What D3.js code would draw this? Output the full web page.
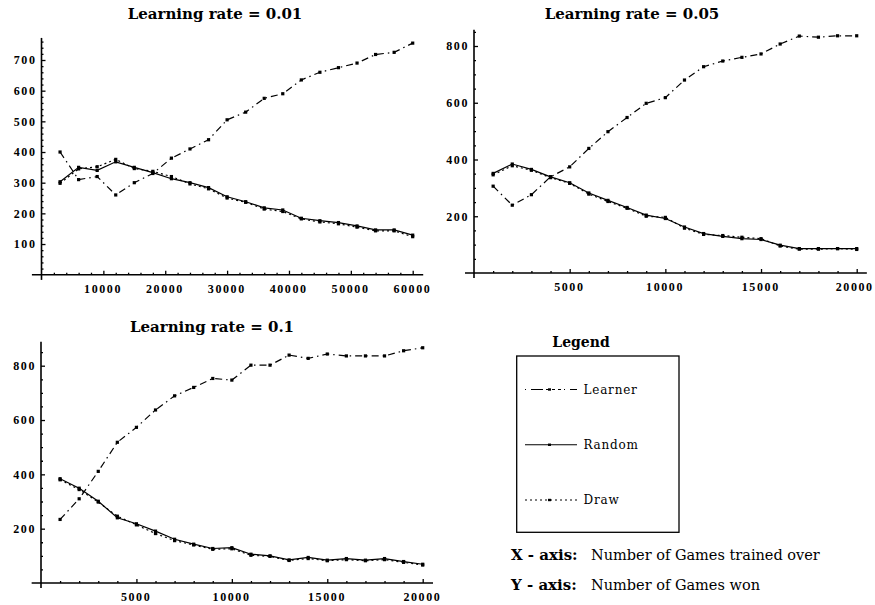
<!DOCTYPE html>
<html>
<head>
<meta charset="utf-8">
<script src="https://cdn.jsdelivr.net/npm/d3@7"></script>
<style>
html,body{margin:0;padding:0;background:#fff;}
svg{display:block;}
</style>
</head>
<body>
<svg id="chart" width="875" height="605"></svg>
<script>
// ---------- data ----------
const titles = ["Learning rate = 0.01", "Learning rate = 0.05", "Learning rate = 0.1"];
const seriesNames = ["Learner", "Random", "Draw"];

const games1 = [3000,6000,9000,12000,15000,18000,21000,24000,27000,30000,33000,36000,39000,42000,45000,48000,51000,54000,57000,60000];
const learner1 = [400,310,320,260,300,330,380,410,440,505,530,575,590,635,660,675,690,718,725,755];
const random1  = [303,350,340,368,350,333,313,300,284,254,238,218,211,184,176,170,159,146,146,129];
const draw1    = [298,345,352,376,346,337,320,296,280,250,236,214,206,182,172,166,155,143,143,124];

const games2 = [1000,2000,3000,4000,5000,6000,7000,8000,9000,10000,11000,12000,13000,14000,15000,16000,17000,18000,19000,20000];
const learner2 = [306,239,276,339,374,439,498,548,598,618,680,727,747,760,772,807,835,831,836,836];
const random2  = [351,384,365,339,318,282,256,231,204,192,162,139,129,121,118,98,86,86,86,86];
const draw2    = [346,378,362,336,316,278,252,228,200,196,158,136,132,126,121,95,84,84,86,83];

const games3 = [1000,2000,3000,4000,5000,6000,7000,8000,9000,10000,11000,12000,13000,14000,15000,16000,17000,18000,19000,20000];
const learner3 = [234,310,411,518,573,637,689,720,753,747,802,802,839,827,843,836,836,836,855,866];
const random3  = [384,349,301,240,218,191,161,143,127,130,106,100,85,94,84,90,84,90,79,69];
const draw3    = [380,344,298,246,214,182,156,140,124,126,102,98,83,90,82,86,82,86,76,66];

const yTicks1 = [100,200,300,400,500,600,700];
const xTicks1 = [10000,20000,30000,40000,50000,60000];
const yTicks23 = [200,400,600,800];
const xTicks23 = [5000,10000,15000,20000];

// ---------- layout ----------
const svg = d3.select("#chart");
const dashes = {Learner: "7,4,1.5,4", Random: null, Draw: "2,3"};

const panels = [
  { title: titles[0], games: games1, vals: [learner1, random1, draw1],
    x: d3.scaleLinear([0,60000],[41.5,412.7]), y: d3.scaleLinear([0,700],[274.7,60]),
    xMaj: xTicks1, xMinStep: 2000, yMaj: yTicks1, yMinStep: 20,
    xExt: [-1550, 61700], yExt: [-17, 772], titleX: 215, titleY: 19 },
  { title: titles[1], games: games2, vals: [learner2, random2, draw2],
    x: d3.scaleLinear([0,20000],[474,856.7]), y: d3.scaleLinear([0,800],[273,46]),
    xMaj: xTicks23, xMinStep: 1000, yMaj: yTicks23, yMinStep: 50,
    xExt: [-470, 20530], yExt: [-18, 857], titleX: 632, titleY: 18.5 },
  { title: titles[2], games: games3, vals: [learner3, random3, draw3],
    x: d3.scaleLinear([0,20000],[41,422.7]), y: d3.scaleLinear([0,800],[583,365.7]),
    xMaj: xTicks23, xMinStep: 1000, yMaj: yTicks23, yMinStep: 50,
    xExt: [-490, 20540], yExt: [-18, 888], titleX: 212, titleY: 331.5 }
];

const tickFont = "'Liberation Serif', 'Times New Roman', serif";

panels.forEach(p => {
  const g = svg.append("g");
  const x = p.x, y = p.y;
  const xMax = x.domain()[1], yMax = p.yExt[1];

  // title
  g.append("text").attr("x", p.titleX).attr("y", p.titleY)
    .attr("text-anchor", "middle")
    .style("font-family", "'DejaVu Serif', serif").style("font-weight", "bold")
    .style("font-size", "15px").text(p.title);

  // minor ticks
  const xMinor = d3.range(p.xMinStep, xMax + 1, p.xMinStep).filter(v => !p.xMaj.includes(v));
  const yMinor = d3.range(p.yMinStep, yMax, p.yMinStep).filter(v => !p.yMaj.includes(v));

  const xa = g.append("g").attr("transform", `translate(0,${y(0)})`);
  xa.append("g").call(d3.axisTop(x).tickValues(xMinor).tickSize(2).tickFormat(""));
  xa.append("g").call(d3.axisTop(x).tickValues(p.xMaj).tickSize(4).tickFormat(""));
  const xl = xa.append("g").attr("class", "xlab")
    .call(d3.axisBottom(x).tickValues(p.xMaj).tickSize(0).tickPadding(9.5).tickFormat(d3.format("d")));

  const ya = g.append("g").attr("transform", `translate(${x(0)},0)`);
  ya.append("g").call(d3.axisRight(y).tickValues(yMinor).tickSize(2).tickFormat(""));
  ya.append("g").call(d3.axisRight(y).tickValues(p.yMaj).tickSize(4).tickFormat(""));
  ya.append("g").call(d3.axisLeft(y).tickValues(p.yMaj).tickSize(0).tickPadding(5).tickFormat(d3.format("d")));

  g.selectAll(".domain").remove();
  g.selectAll(".tick line").attr("stroke", "#000").attr("stroke-width", 1.3);
  g.selectAll(".tick text").style("font-family", tickFont).style("font-weight", "bold")
    .style("font-size", "12px").style("letter-spacing", "1.6px").attr("fill", "#000");
  xl.selectAll(".tick text").attr("dx", (d) => d === 20000 && x(d) > 800 ? -2.5 : -0.8);

  // axis lines
  g.append("line").attr("x1", x(p.xExt[0])).attr("x2", x(p.xExt[1]))
    .attr("y1", y(0)).attr("y2", y(0)).attr("stroke", "#000").attr("stroke-width", 1.6);
  g.append("line").attr("x1", x(0)).attr("x2", x(0))
    .attr("y1", y(p.yExt[0])).attr("y2", y(p.yExt[1])).attr("stroke", "#000").attr("stroke-width", 1.6);

  // series
  const line = d3.line().x(d => x(d[0])).y(d => y(d[1]));
  [2, 0, 1].forEach(si => {
    const pts = p.games.map((gm, i) => [gm, p.vals[si][i]]);
    const path = g.append("path").datum(pts).attr("d", line)
      .attr("fill", "none").attr("stroke", "#000").attr("stroke-width", 1.2);
    if (dashes[seriesNames[si]]) path.attr("stroke-dasharray", dashes[seriesNames[si]]);
    g.selectAll(null).data(pts).enter().append("rect")
      .attr("x", d => x(d[0]) - 1.6).attr("y", d => y(d[1]) - 1.6)
      .attr("width", 3.2).attr("height", 3.2).attr("fill", "#000");
  });
});

// ---------- legend ----------
const lg = svg.append("g");
lg.append("text").attr("x", 581).attr("y", 347).attr("text-anchor", "middle")
  .style("font-family", "'DejaVu Serif', serif").style("font-weight", "bold")
  .style("font-size", "14px").text("Legend");
lg.append("rect").attr("x", 516.7).attr("y", 356).attr("width", 162.3).attr("height", 176.3)
  .attr("fill", "none").attr("stroke", "#000").attr("stroke-width", 1.3);

const legendY = d3.scalePoint().domain(seriesNames).range([389.5, 500]);
seriesNames.forEach(name => {
  const yy = legendY(name);
  const l = lg.append("line").attr("x1", 525).attr("x2", 577).attr("y1", yy).attr("y2", yy)
    .attr("stroke", "#000").attr("stroke-width", 1.2);
  if (dashes[name]) l.attr("stroke-dasharray", name === "Learner" ? "1,5,12,3,3,3,3,3,3,3" : "2,3");
  lg.append("rect").attr("x", 548).attr("y", yy - 1.2).attr("width", 3).attr("height", 2.4).attr("fill", "#000");
  lg.append("text").attr("x", 583.5).attr("y", yy + 4)
    .style("font-family", "'DejaVu Serif', serif").style("font-size", "12px")
    .style("letter-spacing", "0.8px").text(name);
});

// axis descriptions
const notes = [["X - axis:", "Number of Games trained over"], ["Y - axis:", "Number of Games won"]];
const noteY = d3.scalePoint().domain([0, 1]).range([560, 590]);
notes.forEach((n, i) => {
  lg.append("text").attr("x", 511).attr("y", noteY(i))
    .style("font-family", "'DejaVu Serif', serif").style("font-weight", "bold")
    .style("font-size", "15px").text(n[0]);
  lg.append("text").attr("x", 591).attr("y", noteY(i))
    .style("font-family", "'DejaVu Serif', serif")
    .style("font-size", "14.5px").text(n[1]);
});
</script>
</body>
</html>
